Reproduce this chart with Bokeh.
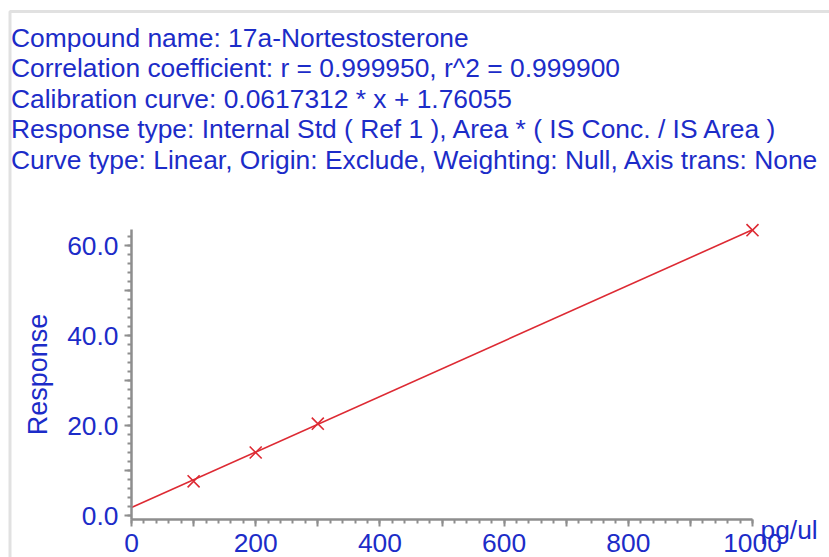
from bokeh.plotting import figure
from bokeh.models import Label, Range1d, SingleIntervalTicker, PrintfTickFormatter, BoxAnnotation
from bokeh.embed import file_html
from bokeh.resources import INLINE

# ---- data ----
header_lines = [
    "Compound name: 17a-Nortestosterone",
    "Correlation coefficient: r = 0.999950, r^2 = 0.999900",
    "Calibration curve: 0.0617312 * x + 1.76055",
    "Response type: Internal Std ( Ref 1 ), Area * ( IS Conc. / IS Area )",
    "Curve type: Linear, Origin: Exclude, Weighting: Null, Axis trans: None",
]
std_conc = [100, 200, 300, 1000]
std_response = [7.6, 14.0, 20.4, 63.4]
fit_conc = [0, 1000]
fit_response = [1.76055, 63.49175]
x_tick_labels = {0: "0", 100: "", 200: "200", 300: "", 400: "400", 500: "",
                 600: "600", 700: "", 800: "800", 900: "", 1000: "1000"}
y_tick_labels = {0: "0.0", 10: "", 20: "20.0", 30: "", 40: "40.0", 50: "", 60: "60.0"}
x_unit = "pg/ul"
y_title = "Response"

# ---- layout / style ----
W, H = 829, 557
X0_PX, X_SCALE = 131, 0.621      # px position of x=0, px per unit
Y0_PX, Y_SCALE = 515, 4.5        # px position of y=0 (from top), px per unit
X_AXIS_AT = -0.9
X_AXIS_END = 1000
Y_AXIS_END = 63.5

BLUE = "#1c2cc8"
RED = "#dd2a33"
GREY = "#8e8e8e"
FONT = "Liberation Sans"
FS = "26.4px"

p = figure(width=W, height=H,
           x_range=Range1d(-X0_PX / X_SCALE, (W - X0_PX) / X_SCALE),
           y_range=Range1d(-(H - Y0_PX) / Y_SCALE, Y0_PX / Y_SCALE),
           output_backend="svg", toolbar_location=None,
           min_border=0, min_border_left=0, min_border_right=0,
           min_border_top=0, min_border_bottom=0)
p.grid.visible = False
p.outline_line_color = None
p.border_fill_color = "white"
p.background_fill_color = "white"

# outer frame of the report panel (left and top edges visible)
p.add_layout(BoxAnnotation(left=9.5, right=W + 50, top=H - 11, bottom=-50,
                           left_units="screen", right_units="screen",
                           top_units="screen", bottom_units="screen",
                           fill_color=None, line_color="#9a9a9a", line_width=3))

xa = p.xaxis[0]
ya = p.yaxis[0]
xa.fixed_location = X_AXIS_AT
ya.fixed_location = 0
xa.ticker = SingleIntervalTicker(interval=100, num_minor_ticks=5)
ya.ticker = SingleIntervalTicker(interval=10, num_minor_ticks=5)
ya.formatter = PrintfTickFormatter(format="%.1f")
xa.major_label_overrides = x_tick_labels
ya.major_label_overrides = y_tick_labels
xa.bounds = (0, X_AXIS_END)
ya.bounds = (X_AXIS_AT, Y_AXIS_END)

for ax in (xa, ya):
    ax.axis_line_color = GREY
    ax.axis_line_width = 2.5
    ax.major_tick_line_color = GREY
    ax.major_tick_line_width = 2
    ax.minor_tick_line_color = GREY
    ax.minor_tick_line_width = 2
    ax.major_tick_in = 0
    ax.major_tick_out = 7
    ax.minor_tick_in = 0
    ax.minor_tick_out = 4
    ax.major_label_text_font = FONT
    ax.major_label_text_font_size = FS
    ax.major_label_text_color = BLUE
xa.major_label_standoff = 7
ya.major_label_standoff = 6
ya.axis_label = y_title
ya.axis_label_text_font = FONT
ya.axis_label_text_font_size = "27px"
ya.axis_label_text_font_style = "normal"
ya.axis_label_text_color = BLUE
ya.axis_label_standoff = 11

p.line(fit_conc, fit_response, line_color=RED, line_width=1.6)
p.scatter(std_conc, std_response, marker="x", size=17, line_color=RED, line_width=1.6)

for i, txt in enumerate(header_lines):
    p.add_layout(Label(x=10.5, y=(H - 37) - 30.5 * i, x_units="screen", y_units="screen",
                       text=txt, text_font=FONT, text_font_size=FS, text_color=BLUE,
                       text_baseline="alphabetic", text_align="left"))

p.add_layout(Label(x=X_AXIS_END, y=H - 529, x_units="data", y_units="screen", x_offset=8,
                   text=x_unit, text_font=FONT, text_font_size=FS, text_color=BLUE,
                   text_baseline="alphabetic", text_align="left"))

open("out.html", "w").write(file_html(p, INLINE))
